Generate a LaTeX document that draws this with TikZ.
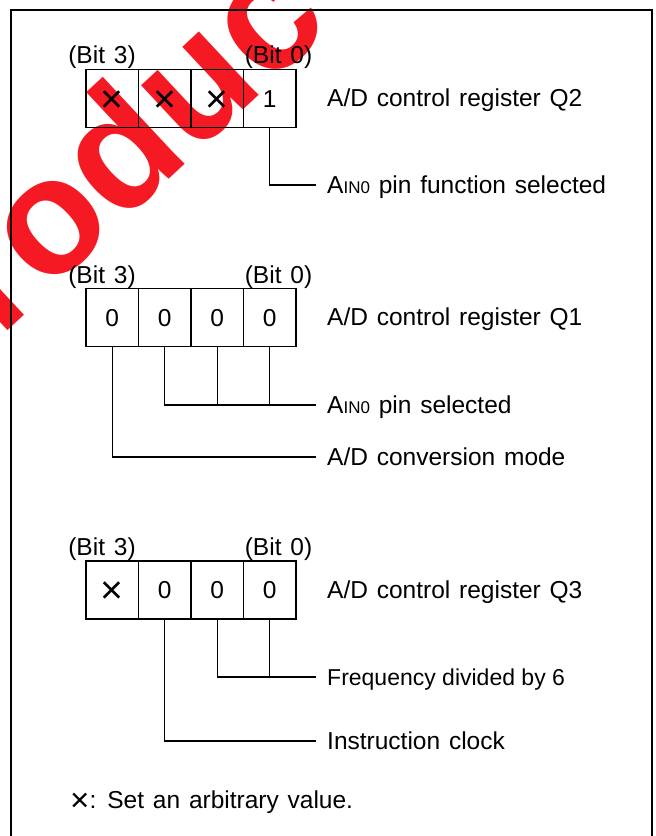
\documentclass[tikz,border=0pt]{standalone}
\usepackage{fontspec}
\setmainfont{Liberation Sans}
\newcommand{\ain}{A{\fontsize{17}{17}\selectfont IN0}}
\newcommand{\crs}{\raisebox{-5.2pt}{\scalebox{1.6}{×}}}
\newcommand{\smcrs}{\raisebox{-3pt}{\scalebox{1.35}{×}}}
\newcommand{\lblfont}{\fontsize{24.5}{28}\selectfont\spaceskip=8.8pt plus 2pt\relax}
\newcommand{\frqfont}{\fontsize{23}{28}\selectfont\relax}
\begin{document}
\begin{tikzpicture}[x=1pt,y=-1pt,
  every node/.style={font=\lblfont, text height=17.5pt, text depth=0pt},
  cell/.style={draw, line width=1.2pt, minimum width=52.5pt, minimum height=58pt, inner sep=0pt},
  wire/.style={line width=1.1pt},
  lbl/.style={anchor=west, inner sep=0pt},
  bitlbl/.style={inner sep=0pt}]
\useasboundingbox (0,0) rectangle (656,836);
\begin{scope}
\clip (0,0) rectangle (656,836);
\node[text={rgb,255:red,245;green,25;blue,35}, rotate=43, font=\fontsize{165}{165}\selectfont\bfseries, anchor=mid, text height={}, text depth={}] (wm) at (165,180) {roduc};
\draw[line width=2.5pt] (11,10) rectangle (652,870);
\end{scope}

% Register Q2
\node[bitlbl] (q2b3) at (102,55) {(Bit 3)};
\node[bitlbl] (q2b0) at (278.5,55) {(Bit 0)};
\node[cell] (q2c3) at (112.25,98.5) {\crs};
\node[cell] (q2c2) at (164.75,98.5) {\crs};
\node[cell] (q2c1) at (217.25,98.5) {\crs};
\node[cell] (q2c0) at (269.75,98.5) {1};
\node[lbl] (q2name) at (327,98) {A/D control register Q2};
\node[lbl] (q2l1) at (327,185) {\ain\ pin function selected};
\draw[wire] (q2c0.south) |- ([xshift=-11pt]q2l1.west);

% Register Q1
\node[bitlbl] (q1b3) at (102,274.5) {(Bit 3)};
\node[bitlbl] (q1b0) at (278.5,274.5) {(Bit 0)};
\node[cell] (q1c3) at (112.25,317.5) {0};
\node[cell] (q1c2) at (164.75,317.5) {0};
\node[cell] (q1c1) at (217.25,317.5) {0};
\node[cell] (q1c0) at (269.75,317.5) {0};
\node[lbl] (q1name) at (327,317) {A/D control register Q1};
\node[lbl] (q1l1) at (327,405) {\ain\ pin selected};
\node[lbl] (q1l2) at (327,457) {A/D conversion mode};
\draw[wire] (q1c2.south) |- ([xshift=-11pt]q1l1.west);
\draw[wire] (q1c1.south) -- (q1c1.south |- q1l1.west);
\draw[wire] (q1c0.south) -- (q1c0.south |- q1l1.west);
\draw[wire] (q1c3.south) |- ([xshift=-11pt]q1l2.west);

% Register Q3
\node[bitlbl] (q3b3) at (102,547) {(Bit 3)};
\node[bitlbl] (q3b0) at (278.5,547) {(Bit 0)};
\node[cell] (q3c3) at (112.25,590) {\crs};
\node[cell] (q3c2) at (164.75,590) {0};
\node[cell] (q3c1) at (217.25,590) {0};
\node[cell] (q3c0) at (269.75,590) {0};
\node[lbl] (q3name) at (327,590) {A/D control register Q3};
\node[lbl, font=\frqfont] (q3l1) at (327,677) {Frequency divided by 6};
\node[lbl] (q3l2) at (327,741) {Instruction clock};
\draw[wire] (q3c1.south) |- ([xshift=-11pt]q3l1.west);
\draw[wire] (q3c0.south) -- (q3c0.south |- q3l1.west);
\draw[wire] (q3c2.south) |- ([xshift=-11pt]q3l2.west);

% Note
\node[lbl] (note) at (70,800) {\smcrs: Set an arbitrary value.};
\end{tikzpicture}
\end{document}
